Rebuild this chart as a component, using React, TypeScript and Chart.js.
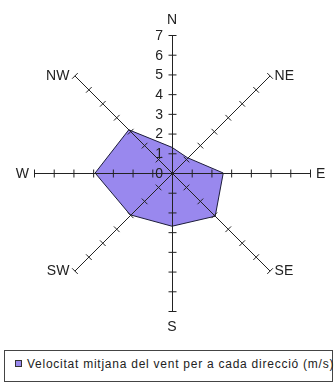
import React, { useEffect, useRef } from "react";
import { Chart, registerables } from "chart.js";

Chart.register(...registerables);

const directions = ["N", "NE", "E", "SE", "S", "SW", "W", "NW"];
const speeds = [1.3, 1.1, 2.6, 3.1, 2.7, 3.0, 3.9, 3.1];
const tickValues = [0, 1, 2, 3, 4, 5, 6, 7];
const seriesLabel = "Velocitat mitjana del vent per a cada direcció (m/s)";

const FILL = "#9988ee";
const LINE = "#222222";
const FONT = "14px Arial, 'Liberation Sans', sans-serif";

const axesPlugin = {
  id: "compassAxes",
  afterDatasetsDraw(chart: any) {
    const scale = chart.scales.r;
    const ctx = chart.ctx as CanvasRenderingContext2D;
    const R = scale.drawingArea;
    ctx.save();
    ctx.strokeStyle = LINE;
    ctx.lineWidth = 1;
    const cx = scale.xCenter;
    const cy = scale.yCenter;
    directions.forEach((_, i) => {
      const end = scale.getPointPosition(i, R);
      const ang = scale.getIndexAngle(i) - Math.PI / 2;
      const px = -Math.sin(ang);
      const py = Math.cos(ang);
      ctx.beginPath();
      ctx.moveTo(cx + 0.5, cy + 0.5);
      ctx.lineTo(end.x + 0.5, end.y + 0.5);
      ctx.stroke();
      tickValues.forEach((v) => {
        if (v === 0) return;
        const p = scale.getPointPositionForValue(i, v);
        ctx.beginPath();
        ctx.moveTo(p.x + 0.5 - 4 * px, p.y + 0.5 - 4 * py);
        ctx.lineTo(p.x + 0.5 + 4 * px, p.y + 0.5 + 4 * py);
        ctx.stroke();
      });
    });
    ctx.fillStyle = "#222";
    ctx.font = FONT;
    ctx.textBaseline = "middle";
    ctx.textAlign = "right";
    tickValues.forEach((v) => {
      const p = scale.getPointPositionForValue(0, v);
      ctx.fillText(String(v), p.x - 9, p.y + 1);
    });
    directions.forEach((d, i) => {
      const end = scale.getPointPosition(i, R);
      let dx = 0;
      let dy = 0;
      let align: CanvasTextAlign = "center";
      if (d === "N") dy = -16;
      else if (d === "S") dy = 15;
      else if (d === "E") { dx = 6; align = "left"; }
      else if (d === "W") { dx = -5; align = "right"; }
      else if (d === "NE" || d === "SE") { dx = 5; align = "left"; }
      else { dx = -5; align = "right"; }
      ctx.textAlign = align;
      ctx.fillText(d, end.x + dx, end.y + dy + 1);
    });
    ctx.restore();
  },
};

export default function App() {
  const ref = useRef<HTMLCanvasElement | null>(null);
  useEffect(() => {
    if (!ref.current) return;
    const chart = new Chart(ref.current, {
      type: "radar",
      data: {
        labels: directions,
        datasets: [
          {
            label: seriesLabel,
            data: speeds,
            backgroundColor: FILL,
            borderColor: "#1c1c3a",
            borderWidth: 1,
            pointRadius: 0,
            fill: true,
          },
        ],
      },
      options: {
        animation: false,
        responsive: false,
        devicePixelRatio: 1,
        layout: { padding: { left: 34, right: 24, top: 35, bottom: 34 } },
        plugins: { legend: { display: false }, tooltip: { enabled: false } },
        scales: {
          r: {
            min: 0,
            max: 7,
            ticks: { display: false, stepSize: 1 },
            grid: { display: false },
            angleLines: { display: false },
            pointLabels: { display: false },
          },
        },
      },
      plugins: [axesPlugin],
    });
    return () => chart.destroy();
  }, []);

  return (
    <div style={{ position: "absolute", left: 0, top: 0, width: 334, height: 385, background: "#fff" }}>
      <canvas ref={ref} width={334} height={345} style={{ position: "absolute", left: 0, top: 0 }} />
      <div
        style={{
          position: "absolute",
          left: 4,
          top: 350,
          width: 329,
          height: 32,
          boxSizing: "border-box",
          border: "1px solid #444",
          fontFamily: "Arial, 'Liberation Sans', sans-serif",
          fontSize: 12,
          color: "#222",
          whiteSpace: "nowrap",
        }}
      >
        <span
          style={{
            position: "absolute",
            left: 10,
            top: 9,
            width: 7,
            height: 7,
            boxSizing: "border-box",
            border: "1px solid #333",
            background: FILL,
          }}
        />
        <span style={{ position: "absolute", left: 22, top: 6, letterSpacing: 0.75 }}>{seriesLabel}</span>
      </div>
    </div>
  );
}
